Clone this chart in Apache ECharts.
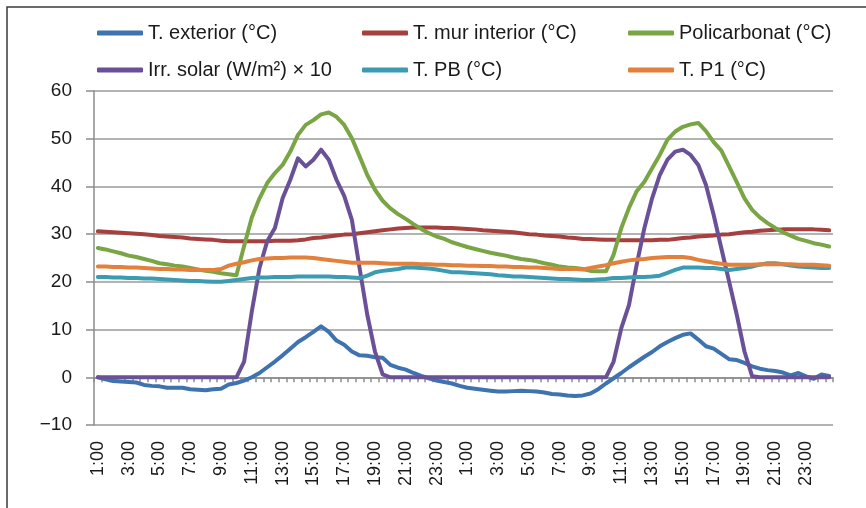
<!DOCTYPE html>
<html>
<head>
<meta charset="utf-8">
<script src="https://cdn.jsdelivr.net/npm/echarts@6.0.0/dist/echarts.min.js"></script>
<style>
html,body{margin:0;padding:0;background:#fff;}
#chart{width:866px;height:508px;}
</style>
</head>
<body>
<div id="chart"></div>
<script>
const categories = [
"1:00","1:30","2:00","2:30","3:00","3:30","4:00","4:30","5:00","5:30",
"6:00","6:30","7:00","7:30","8:00","8:30","9:00","9:30","10:00","10:30",
"11:00","11:30","12:00","12:30","13:00","13:30","14:00","14:30","15:00","15:30",
"16:00","16:30","17:00","17:30","18:00","18:30","19:00","19:30","20:00","20:30",
"21:00","21:30","22:00","22:30","23:00","23:30","0:00","0:30",
"1:00","1:30","2:00","2:30","3:00","3:30","4:00","4:30","5:00","5:30",
"6:00","6:30","7:00","7:30","8:00","8:30","9:00","9:30","10:00","10:30",
"11:00","11:30","12:00","12:30","13:00","13:30","14:00","14:30","15:00","15:30",
"16:00","16:30","17:00","17:30","18:00","18:30","19:00","19:30","20:00","20:30",
"21:00","21:30","22:00","22:30","23:00","23:30","0:00","0:30"
];

const tExterior = [
0.0,-0.4,-0.8,-0.9,-1.0,-1.1,-1.6,-1.8,-1.9,-2.2,
-2.2,-2.2,-2.5,-2.6,-2.7,-2.5,-2.4,-1.5,-1.2,-0.7,
0.0,0.9,2.1,3.3,4.6,6.0,7.4,8.4,9.5,10.7,
9.5,7.7,6.8,5.4,4.6,4.5,4.2,4.1,2.6,2.0,
1.6,0.9,0.3,-0.2,-0.7,-1.0,-1.3,-1.8,-2.2,-2.4,
-2.6,-2.8,-3.0,-3.0,-2.9,-2.8,-2.9,-3.0,-3.2,-3.5,
-3.6,-3.8,-3.9,-3.8,-3.4,-2.5,-1.3,-0.2,0.9,2.1,
3.2,4.3,5.3,6.5,7.4,8.2,8.9,9.2,7.9,6.5,
6.0,4.9,3.8,3.6,3.0,2.3,1.8,1.5,1.3,1.0,
0.4,0.9,0.2,-0.3,0.6,0.3
];

const tMurInterior = [
30.6,30.5,30.4,30.3,30.2,30.1,30.0,29.8,29.6,29.5,
29.4,29.3,29.1,29.0,28.9,28.8,28.6,28.5,28.5,28.5,
28.5,28.5,28.5,28.6,28.6,28.6,28.7,28.9,29.2,29.3,
29.5,29.7,29.9,30.0,30.2,30.4,30.6,30.8,31.0,31.2,
31.3,31.4,31.4,31.4,31.4,31.3,31.3,31.2,31.1,31.0,
30.8,30.7,30.6,30.5,30.4,30.2,30.0,29.9,29.7,29.6,
29.5,29.3,29.2,29.0,29.0,28.9,28.8,28.8,28.7,28.7,
28.7,28.7,28.7,28.8,28.8,29.0,29.2,29.3,29.5,29.6,
29.7,29.9,30.0,30.2,30.4,30.5,30.7,30.8,30.9,31.0,
31.0,31.0,31.0,31.0,30.9,30.8
];

const policarbonat = [
27.1,26.8,26.4,26.0,25.5,25.2,24.8,24.4,23.9,23.7,
23.4,23.2,22.9,22.6,22.3,22.1,21.8,21.6,21.4,27.5,
33.5,37.5,40.7,42.8,44.5,47.3,50.8,52.9,53.9,55.1,
55.5,54.6,52.9,50.1,46.3,42.4,39.3,37.0,35.4,34.2,
33.2,32.1,31.1,30.2,29.5,29.0,28.3,27.8,27.3,26.9,
26.5,26.1,25.8,25.5,25.1,24.8,24.6,24.3,23.9,23.6,
23.2,23.0,22.9,22.7,22.3,22.2,22.2,25.7,31.3,35.5,
39.0,41.0,43.8,46.6,49.8,51.5,52.5,53.0,53.3,51.6,
49.3,47.5,44.2,40.9,37.5,35.1,33.5,32.3,31.3,30.4,
29.7,29.0,28.6,28.1,27.8,27.4
];

const irrSolar = [
0,0,0,0,0,0,0,0,0,0,
0,0,0,0,0,0,0,0,0,3.3,
13.8,22.9,28.5,31.3,37.5,41.4,45.9,44.2,45.6,47.7,
45.6,41.4,38.0,33.0,22.9,13.1,5.4,0.6,0,0,
0,0,0,0,0,0,0,0,0,0,
0,0,0,0,0,0,0,0,0,0,
0,0,0,0,0,0,0,3.3,10.3,15.2,
23.6,31.3,37.5,42.4,45.6,47.3,47.7,46.6,44.5,40.3,
34.0,27.0,20.1,13.1,5.4,0.2,0,0,0,0,
0,0,0,0,0,0
];

const tPB = [
21.0,21.0,20.9,20.9,20.8,20.8,20.7,20.7,20.6,20.5,
20.4,20.3,20.2,20.2,20.1,20.0,20.0,20.2,20.4,20.6,
20.8,20.9,20.9,21.0,21.0,21.0,21.1,21.1,21.1,21.1,
21.1,21.0,21.0,20.9,20.8,21.3,22.0,22.3,22.5,22.7,
23.0,23.0,22.9,22.8,22.6,22.3,22.0,22.0,21.9,21.8,
21.7,21.6,21.4,21.3,21.1,21.1,21.0,20.9,20.8,20.7,
20.6,20.6,20.5,20.4,20.4,20.5,20.6,20.8,20.8,20.9,
21.0,21.0,21.1,21.3,21.9,22.5,23.0,23.0,23.0,22.9,
22.9,22.7,22.5,22.7,22.9,23.2,23.6,23.9,23.9,23.7,
23.4,23.2,23.1,23.0,22.9,22.9
];

const tP1 = [
23.2,23.2,23.1,23.1,23.0,23.0,22.9,22.8,22.7,22.7,
22.6,22.6,22.5,22.5,22.5,22.5,22.7,23.4,23.8,24.1,
24.5,24.8,24.9,25.0,25.0,25.1,25.1,25.1,25.0,24.8,
24.6,24.4,24.2,24.0,24.0,24.0,24.0,23.9,23.8,23.8,
23.8,23.8,23.7,23.7,23.6,23.6,23.5,23.5,23.4,23.4,
23.3,23.3,23.2,23.2,23.1,23.1,23.0,23.0,22.9,22.8,
22.7,22.7,22.7,22.6,22.9,23.2,23.5,23.9,24.2,24.5,
24.7,24.8,25.0,25.1,25.2,25.2,25.2,25.0,24.6,24.3,
24.0,23.8,23.6,23.6,23.6,23.6,23.7,23.7,23.7,23.7,
23.7,23.6,23.6,23.6,23.5,23.4
];

const seriesNames = [
"T. exterior (°C)",
"T. mur interior (°C)",
"Policarbonat (°C)",
"Irr. solar (W/m²) × 10",
"T. PB (°C)",
"T. P1 (°C)"
];
const seriesData = [tExterior, tMurInterior, policarbonat, irrSolar, tPB, tP1];
const seriesColors = ["#3E73B0", "#A5403E", "#79A544", "#6A5197", "#3A9BB1", "#E3803B"];

const chart = echarts.init(document.getElementById('chart'), null, {renderer: 'canvas'});

const legendFont = {fontFamily: "'Liberation Sans',Arial,sans-serif", fontSize: 20, color: '#1a1a1a'};
function legendCol(left, names) {
  return {
    orient: 'vertical', left: left, top: 18, itemGap: 17,
    itemWidth: 46, itemHeight: 5, icon: 'roundRect',
    textStyle: legendFont, data: names
  };
}

const option = {
  backgroundColor: '#ffffff',
  animation: false,
  graphic: [{
    type: 'rect', silent: true,
    shape: {x: 7, y: 7, width: 900, height: 600},
    style: {fill: 'none', stroke: '#3a3a3a', lineWidth: 1.5}
  }],
  legend: [
    legendCol(92, [seriesNames[0], seriesNames[3]]),
    legendCol(357, [seriesNames[1], seriesNames[4]]),
    legendCol(623, [seriesNames[2], seriesNames[5]])
  ],
  grid: {left: 94, right: 33, top: 91, bottom: 83, containLabel: false},
  xAxis: [{
    type: 'category', data: categories, position: 'bottom', boundaryGap: true,
    axisLine: {show: false, onZero: false},
    axisTick: {show: false},
    splitLine: {show: false},
    axisLabel: {
      interval: 3, rotate: 90, margin: 16,
      fontFamily: "'Liberation Sans',Arial,sans-serif", fontSize: 18, color: '#1a1a1a'
    }
  }, {
    type: 'category', data: categories, position: 'bottom', boundaryGap: true,
    axisLine: {show: true, onZero: true, onZeroAxisIndex: 0, lineStyle: {color: '#8c8c8c', width: 1.5}},
    axisTick: {show: true, interval: 0, length: 5, lineStyle: {color: '#8c8c8c', width: 1.5}},
    axisLabel: {show: false},
    splitLine: {show: false}
  }],
  yAxis: {
    type: 'value', min: -10, max: 60, interval: 10,
    axisLine: {show: true, lineStyle: {color: '#8c8c8c', width: 1.5}},
    axisTick: {show: true, length: 8, lineStyle: {color: '#8c8c8c', width: 1.5}},
    splitLine: {show: true, lineStyle: {color: '#9a9a9a', width: 1.5}},
    axisLabel: {
      margin: 22, fontFamily: "'Liberation Sans',Arial,sans-serif", fontSize: 19, color: '#1a1a1a',
      formatter: v => String(v).replace('-', '\u2212')
    }
  },
  series: seriesNames.map((name, k) => ({
    name: name, type: 'line', xAxisIndex: 0, data: seriesData[k],
    showSymbol: false, symbol: 'none', smooth: false,
    lineStyle: {width: 4, color: seriesColors[k], cap: 'round', join: 'round'},
    itemStyle: {color: seriesColors[k]}
  }))
};
chart.setOption(option);
</script>
</body>
</html>
